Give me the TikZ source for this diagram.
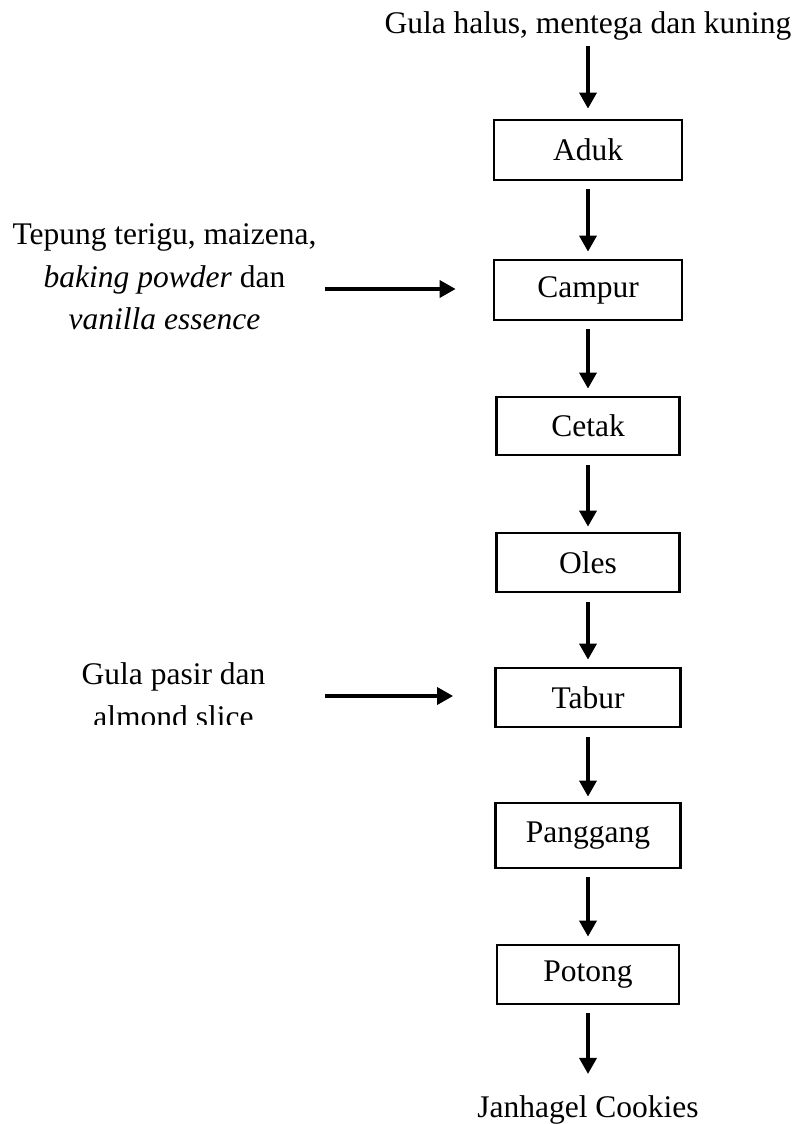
\documentclass[tikz,border=0pt]{standalone}
\usepackage{fontspec}
\setmainfont{Liberation Serif}
\usetikzlibrary{arrows.meta}
\tikzset{
  procbox/.style={draw=black, line width=2.8pt, minimum height=#1, inner sep=0pt, font=\fontsize{31.5}{42.5}\selectfont},
  plain/.style={inner sep=0pt, font=\fontsize{31.5}{42.5}\selectfont},
  flow/.style={line width=3.5pt, -{Triangle[length=16pt,width=17pt]}},
}
\begin{document}
\begin{tikzpicture}[x=1pt,y=-1pt]
\useasboundingbox[fill=white] (0,0) rectangle (798,1124);
% top input
\node[plain, anchor=base] (top) at (588,34) {Gula halus, mentega dan kuning};
% process boxes
\node[procbox=60pt, minimum width=188pt] (aduk) at (588,150) {Aduk};
\node[procbox=60pt, minimum width=188pt] (campur) at (588,290) {Campur};
\node[procbox=58pt, minimum width=183pt] (cetak) at (588,426) {Cetak};
\node[procbox=59pt, minimum width=183pt] (oles) at (588,562.5) {Oles};
\node[procbox=59pt, minimum width=185pt] (tabur) at (588,697.5) {Tabur};
\node[procbox=65pt, minimum width=185pt] (panggang) at (588,835.5) {Panggang};
\node[procbox=59pt, minimum width=182pt] (potong) at (588,974.5) {Potong};
% bottom output
\node[plain, anchor=base] (out) at (588,1117) {Janhagel Cookies};
% side inputs
\node[plain, align=center, anchor=north] (in1) at (164.5,223.5)
  {Tepung terigu, maizena,\\\textit{baking powder} dan\\\textit{vanilla essence}};
\begin{scope}
\clip (0,0) rectangle (798,724);
\node[plain, align=center, anchor=north] (in2) at (173.5,662.5)
  {Gula pasir dan\\almond slice};
\end{scope}
\coordinate (s1) at (325,289);
\coordinate (s2) at (325,696);
% connectors
\draw[flow, shorten <=5pt, shorten >=10pt] (top.south) -- (aduk.north);
\draw[flow, shorten <=8pt, shorten >=7pt] (aduk.south) -- (campur.north);
\draw[flow, shorten <=8pt, shorten >=7pt] (campur.south) -- (cetak.north);
\draw[flow, shorten <=9pt, shorten >=5pt] (cetak.south) -- (oles.north);
\draw[flow, shorten <=9pt, shorten >=7pt] (oles.south) -- (tabur.north);
\draw[flow, shorten <=9pt, shorten >=5pt] (tabur.south) -- (panggang.north);
\draw[flow, shorten <=8pt, shorten >=7pt] (panggang.south) -- (potong.north);
\draw[flow, shorten <=8pt, shorten >=21pt] (potong.south) -- (out.north);
\draw[flow, shorten >=37pt] (s1) -- (s1 -| campur.west);
\draw[flow, shorten >=41pt] (s2) -- (s2 -| tabur.west);
\end{tikzpicture}
\end{document}
